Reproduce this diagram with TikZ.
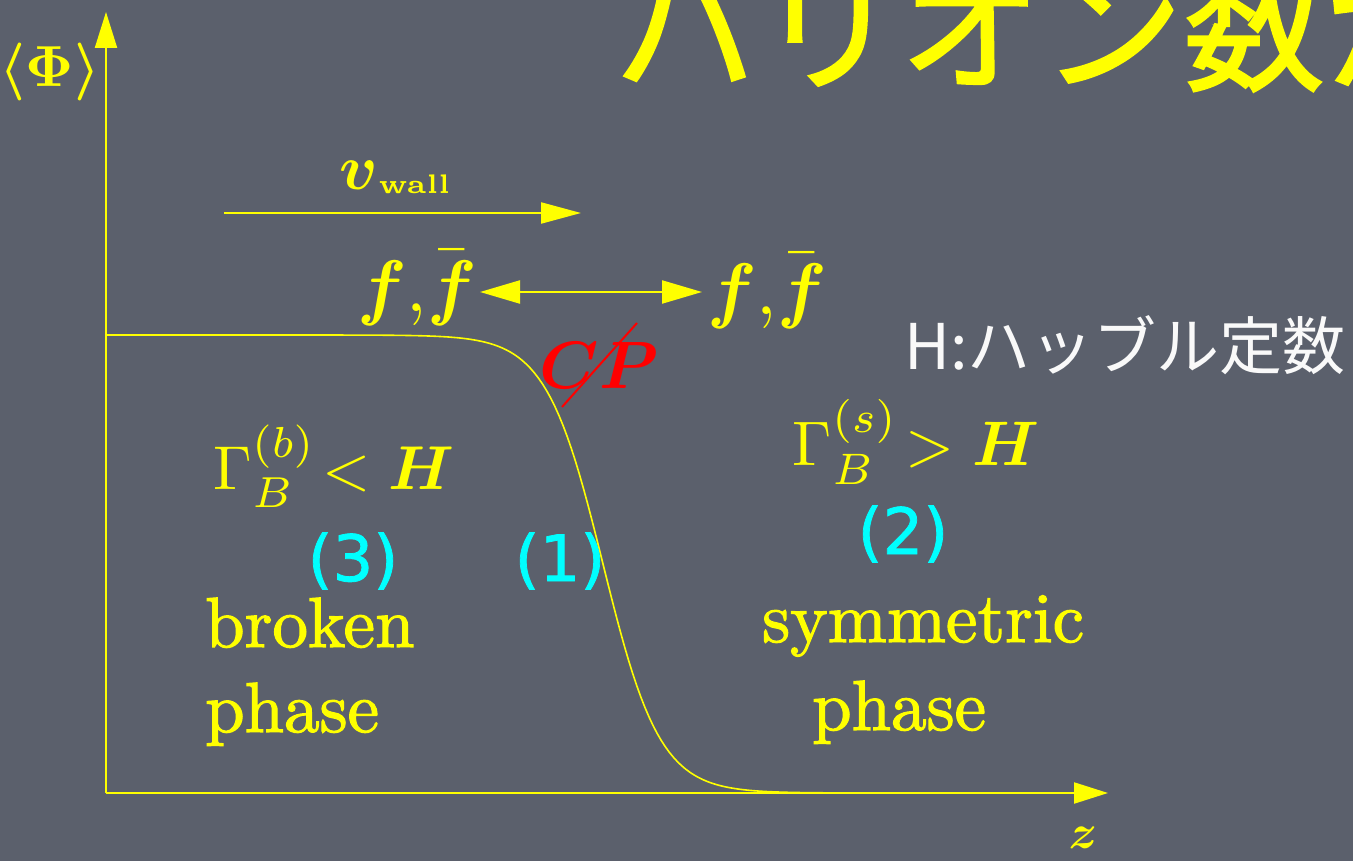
\documentclass[tikz,border=0pt]{standalone}
\usepackage{amsmath}
\usepackage{fontspec}
\newfontfamily\jp{Noto Sans CJK JP}
\newfontfamily\jpbold{Noto Sans CJK JP}[FakeBold=1.6]
\newfontfamily\rnd{DejaVu Sans}[FakeBold=1.2]
\newfontfamily\thick{lmroman10-regular}[Extension=.otf, FakeBold=1.6]
\usetikzlibrary{arrows.meta,calc}
\definecolor{bgc}{RGB}{91,96,108}
\definecolor{yel}{RGB}{255,255,0}
\definecolor{cyn}{RGB}{0,255,255}
\definecolor{redc}{RGB}{255,0,0}
\tikzset{
  ytext/.style={text=yel, inner sep=0pt},
  axisline/.style={draw=yel, line width=2.2pt, -{Triangle[length=36pt,width=22pt]}},
  arrline/.style={draw=yel, line width=2.2pt},
  curveline/.style={draw=yel, line width=1.6pt},
  numlbl/.style={text=cyn, inner sep=0pt, font=\rnd\fontsize{64}{68}\selectfont},
  phasetxt/.style={text=yel, inner sep=0pt, anchor=base west, font=\thick\fontsize{71}{80}\selectfont},
}
\begin{document}
\begin{tikzpicture}[x=1pt,y=-1pt]
\useasboundingbox (0,0) rectangle (1353,861);
\fill[bgc] (0,0) rectangle (1353,861);
% title (cropped at top)
\node[text=yel, inner sep=0pt, anchor=base west, font=\jpbold\fontsize{142}{144}\selectfont] (title) at (615,80) {バリオン数が};
% axes
\coordinate (O) at (106,793);
\coordinate (ytip) at (106,12);
\coordinate (xtip) at (1108,793);
\draw[axisline] (O) -- (ytip);
\draw[axisline, -{Triangle[length=34pt,width=21pt]}] (O) -- (xtip);
\node[ytext, scale=5.8] (phi) at (50,72) {$\boldsymbol{\langle\Phi\rangle}$};
\node[ytext, scale=4.8] (zl) at (1083,838) {$\boldsymbol{z}$};
% wall profile
\draw[curveline] plot[domain=106:1000, samples=220] (\x, {335+229*(1+tanh((\x-603)/57))});
% v_wall
\node[ytext, anchor=base west, scale=6.4] (vw) at (338,190) {$\boldsymbol{v}$\kern0.1pt\raisebox{-0.5pt}{\fontsize{4.2}{5}\selectfont\bfseries wall}};
\coordinate (vs) at (224,213);
\coordinate (ve) at (581,213);
\draw[arrline, -{Triangle[length=40pt,width=21pt]}] (vs) -- (ve);
% f fbar
\node[ytext, scale=7.3] (fL) at (417,288) {$\boldsymbol{f}{,}\bar{\boldsymbol{f}}$};
\node[ytext, scale=7.3] (fR) at (767,291) {$\boldsymbol{f}{,}\bar{\boldsymbol{f}}$};
\coordinate (dl) at (480,292);
\coordinate (dr) at (702,292);
\draw[arrline, {Triangle[length=40pt,width=23pt]}-{Triangle[length=40pt,width=23pt]}] (dl) -- (dr);
% CP violation
\node[text=redc, inner sep=0pt, scale=6.7] (cp) at (599,366) {$\boldsymbol{CP}$};
\draw[redc, line width=2pt] ($(cp.center)+(-37,41)$) -- ($(cp.center)+(38,-43)$);
% H label
\node[text=white!95!gray, inner sep=0pt, font=\jp\fontsize{63}{65}\selectfont] (hub) at (1125,345) {H:ハッブル定数};
% rates
\node[ytext, scale=6.2] (gb) at (334,466) {$\Gamma_B^{(b)}\!<\boldsymbol{H}$};
\node[ytext, scale=6.3] (gs) at (916,442) {$\Gamma_B^{(s)}\!>\boldsymbol{H}$};
% numbers
\node[numlbl] (n3) at (353,561) {(3)};
\node[numlbl] (n1) at (560,561) {(1)};
\node[numlbl] (n2) at (903,534) {(2)};
% phases
\node[phasetxt] (br) at (205,647) {broken};
\node[phasetxt] (bp) at (205,732) {phase};
\node[phasetxt] (sy) at (762,642) {symmetric};
\node[phasetxt] (sp) at (812,730) {phase};
\end{tikzpicture}
\end{document}
